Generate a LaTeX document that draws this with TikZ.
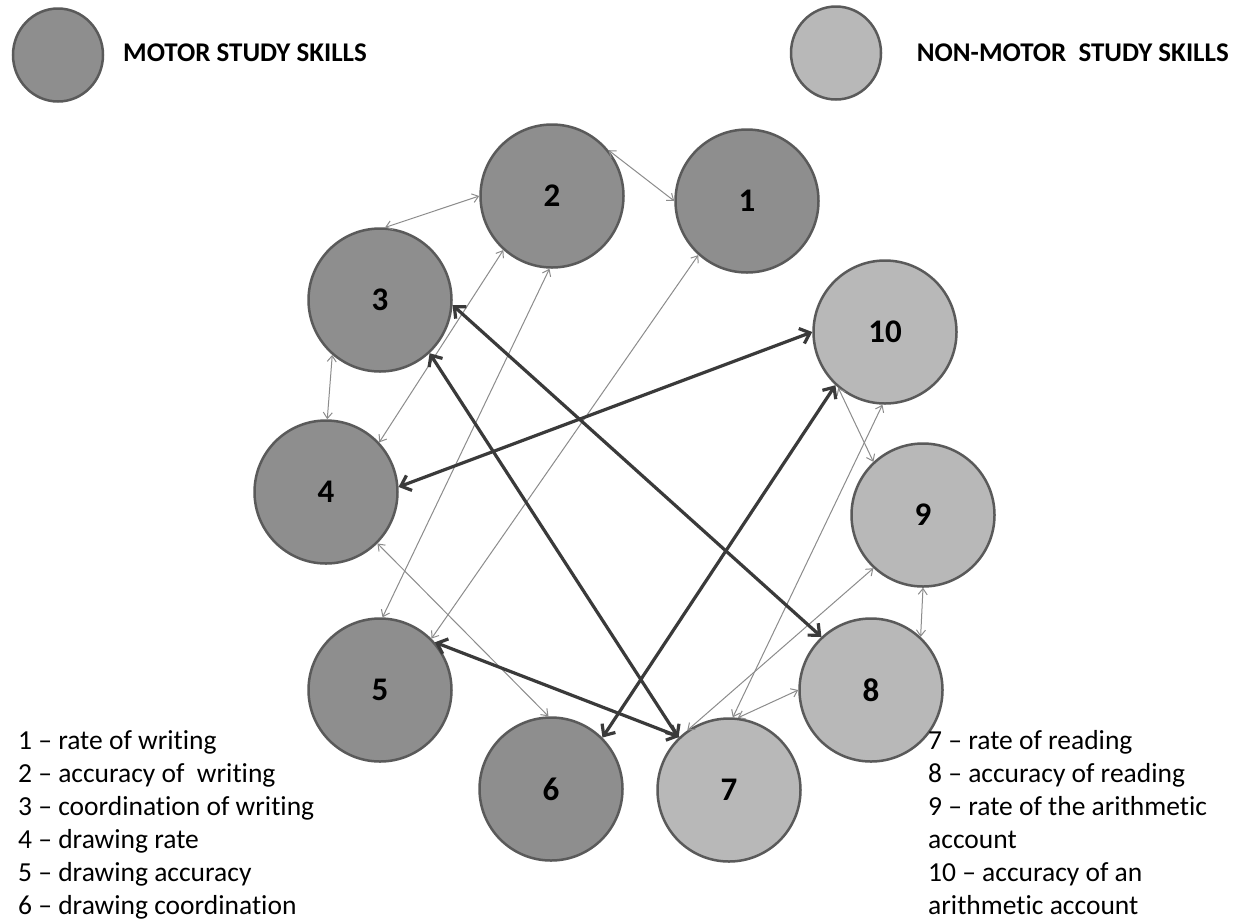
\documentclass[tikz,border=0pt]{standalone}
\usepackage{fontspec}
\setmainfont{Carlito}[Ligatures=NoCommon]
\usetikzlibrary{arrows.meta,shapes.geometric}
\definecolor{motorfill}{HTML}{8E8E8E}
\definecolor{nonmotorfill}{HTML}{B8B8B8}
\definecolor{ringcol}{HTML}{5A5A5A}
\definecolor{thickcol}{HTML}{3A3A3A}
\definecolor{thincol}{HTML}{8C8C8C}
\begin{document}
\begin{tikzpicture}[x=1pt,y=-1pt,
  skill/.style={circle, draw=ringcol, line width=2.5pt, minimum size=143pt, inner sep=0pt,
    font=\bfseries\fontsize{33}{38}\selectfont},
  motor/.style={skill, fill=motorfill},
  nonmotor/.style={skill, fill=nonmotorfill},
  legmark/.style={ellipse, draw=ringcol, line width=2.5pt, minimum width=90pt, minimum height=93pt, inner sep=0pt},
  strong/.style={draw=thickcol, line width=3.2pt,
    {Straight Barb[length=9pt,width=16pt]}-{Straight Barb[length=9pt,width=16pt]}},
  weak/.style={draw=thincol, line width=1pt,
    {Straight Barb[length=6pt,width=9pt]}-{Straight Barb[length=6pt,width=9pt]}},
  keytext/.style={anchor=base west, inner sep=0pt, font=\fontsize{27.5}{32}\selectfont},
  legtext/.style={inner sep=0pt, font=\bfseries\fontsize{27}{32}\selectfont},
]
\useasboundingbox (0,0) rectangle (1239,922);
\fill[white] (0,0) rectangle (1239,922);

% legend
\node[legmark, fill=motorfill] (legm) at (58,55) {};
\node[legtext, anchor=west] (legmt) at (123,53) {MOTOR STUDY SKILLS};
\node[legmark, fill=nonmotorfill] (legn) at (836,53) {};
\node[legtext, anchor=east] (legnt) at (1229,53) {NON-MOTOR\ \ STUDY SKILLS};

% skill circles
\node[motor] (n1) at (747,201) {1};
\node[motor] (n2) at (552,196) {2};
\node[motor] (n3) at (380,300) {3};
\node[motor] (n4) at (326,492) {4};
\node[motor] (n5) at (380,690) {5};
\node[motor] (n6) at (551,789) {6};
\node[nonmotor] (n7) at (729,790) {7};
\node[nonmotor] (n8) at (871,690) {8};
\node[nonmotor] (n9) at (923,515) {9};
\node[nonmotor] (n10) at (885,332) {10};

% weak links
\draw[weak] (n2.39) -- (n1.180);
\draw[weak] (n3.86) -- (n2.180);
\draw[weak] (n3.229) -- (n4.89);
\draw[weak] (n4.43) -- (n2.228);
\draw[weak] (n5.88) -- (n2.268);
\draw[weak] (n5.45) -- (n1.228);
\draw[weak] (n4.315) -- (n6.92);
\draw[weak] (n10.230) -- (n9.133);
\draw[weak] (n7.87) -- (n10.268);
\draw[weak] (n7.125) -- (n9.227);
\draw[weak] (n7.83) -- (n8.180);
\draw[weak] (n9.270) -- (n8.47);

% strong links
\draw[strong] (n4.4) -- (n10.180);
\draw[strong] (n3.-4) -- (n8.133);
\draw[strong] (n3.-47) -- (n7.134);
\draw[strong] (n5.41) -- (n7.133);
\draw[strong] (n6.45) -- (n10.227);

% keys
\node[keytext] (k1) at (18,749) {1 – rate of writing};
\node[keytext] (k2) at (18,782) {2 – accuracy of\ \ writing};
\node[keytext] (k3) at (18,815) {3 – coordination of writing};
\node[keytext] (k4) at (18,848) {4 – drawing rate};
\node[keytext] (k5) at (18,881) {5 – drawing accuracy};
\node[keytext] (k6) at (18,914) {6 – drawing coordination};
\node[keytext] (k7) at (928,749) {7 – rate of reading};
\node[keytext] (k8) at (928,782) {8 – accuracy of reading};
\node[keytext] (k9) at (928,815) {9 – rate of the arithmetic};
\node[keytext] (k9b) at (928,848) {account};
\node[keytext] (k10) at (928,881) {10 – accuracy of an};
\node[keytext] (k10b) at (928,914) {arithmetic account};
\end{tikzpicture}
\end{document}
